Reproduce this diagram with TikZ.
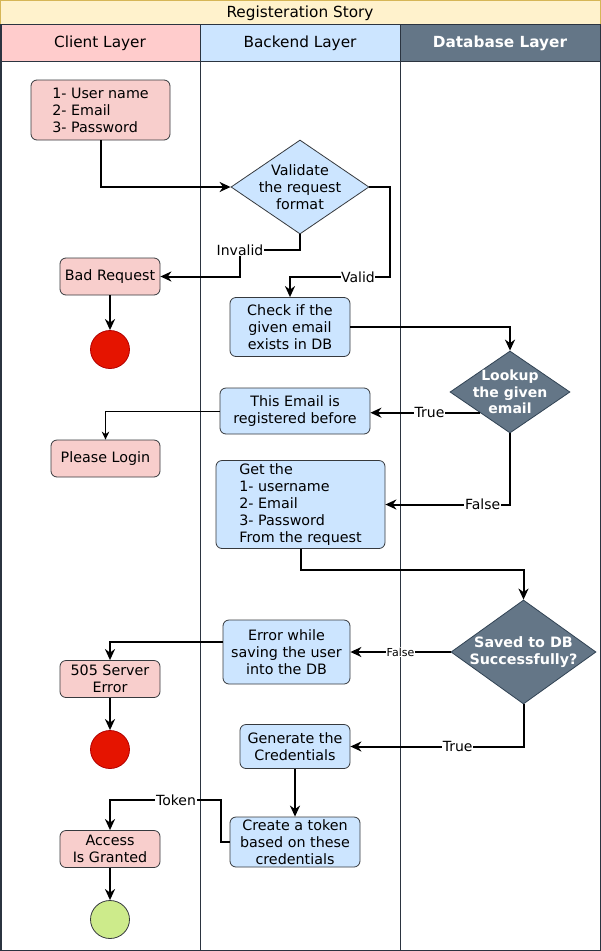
\documentclass[tikz,border=0pt]{standalone}
\usepackage{fontspec}
\setmainfont{DejaVu Sans}
\usetikzlibrary{shapes.geometric,arrows.meta}
\definecolor{pinkf}{HTML}{F8CECC}
\definecolor{pinkh}{HTML}{FFCCCC}
\definecolor{bluef}{HTML}{CCE5FF}
\definecolor{dbf}{HTML}{647687}
\definecolor{dbs}{HTML}{314354}
\definecolor{strokeg}{HTML}{36393D}
\definecolor{titlef}{HTML}{FFF2CC}
\definecolor{titles}{HTML}{D6B656}
\definecolor{lanec}{HTML}{2B3440}
\definecolor{redf}{HTML}{E51400}
\definecolor{reds}{HTML}{B20000}
\definecolor{greenf}{HTML}{CDEB8B}
\begin{document}
\begin{tikzpicture}[x=1pt,y=-1pt,
  box/.style={draw=strokeg, line width=0.8pt, rounded corners=6pt, inner sep=0pt, align=center, font=\fontsize{14.3}{17}\selectfont, text=black},
  cbox/.style={box, fill=pinkf},
  bbox/.style={box, fill=bluef},
  dia/.style={diamond, inner sep=0pt, line width=0.8pt},
  dtext/.style={align=center, inner sep=0pt, font=\fontsize{14.3}{17}\selectfont},
  endc/.style={ellipse, inner sep=0pt, minimum width=39pt, minimum height=38pt, line width=0.8pt},
  edge/.style={line width=2pt, -{Stealth[length=11pt,width=10pt,inset=3.5pt]}},
  thinedge/.style={line width=1pt, -{Stealth[length=8pt,width=7.5pt,inset=2.5pt]}},
  lbl/.style={fill=white, inner sep=0.6pt, font=\fontsize{14}{16}\selectfont},
  slbl/.style={fill=white, inner sep=0.6pt, font=\fontsize{11}{13}\selectfont},
  hdr/.style={font=\fontsize{15.3}{18}\selectfont}
]
\useasboundingbox (0,0) rectangle (601,951);
% lanes
\fill[white] (0,0) rectangle (601,951);
\draw[draw=titles, fill=titlef, line width=1pt] (0.5,0.5) rectangle (600.5,24);
\node[hdr] (title) at (300,13) {Registeration Story};
\fill[pinkh] (0.5,24) rectangle (200,61);
\fill[bluef] (200,24) rectangle (400,61);
\fill[dbf] (400,24) rectangle (600.5,61);
\node[hdr] (h1) at (100,43) {Client Layer};
\node[hdr] (h2) at (300,43) {Backend Layer};
\node[hdr, text=white, font=\fontsize{15.3}{18}\selectfont\bfseries] (h3) at (500,43) {Database Layer};
\draw[lanec, line width=1pt] (0.5,24) -- (600.5,24);
\draw[lanec, line width=1pt] (0.5,61) -- (600.5,61);
\draw[lanec, line width=0.8pt] (200,24) -- (200,951);
\draw[lanec, line width=0.8pt] (400,24) -- (400,951);
\draw[lanec, line width=1.5pt] (0.75,24) -- (0.75,950.25) -- (600.25,950.25) -- (600.25,24);

% nodes
\node[cbox, minimum width=139pt, minimum height=60pt, align=left] (in) at (100.5,110) {1- User name\\2- Email\\3- Password};
\node[dia, fill=bluef, draw=strokeg, minimum width=138pt, minimum height=94pt] (val) at (300,187) {};
\node[dtext] (valt) at (val.center) {Validate\\the request\\format};
\node[cbox, minimum width=100pt, minimum height=37pt] (bad) at (110,276.5) {Bad Request};
\node[endc, fill=redf, draw=reds] (rc1) at (110,349.5) {};
\node[bbox, minimum width=120pt, minimum height=59pt] (check) at (290,327) {Check if the\\given email\\exists in DB};
\node[dia, fill=dbf, draw=dbs, minimum width=120pt, minimum height=82pt] (look) at (510,392) {};
\node[dtext, text=white, font=\fontsize{14}{16.5}\selectfont\bfseries] (lookt) at (look.center) {Lookup\\the given\\email};
\node[bbox, minimum width=150pt, minimum height=46pt] (email) at (295,411) {This Email is\\registered before};
\node[cbox, minimum width=109pt, minimum height=37pt] (login) at (105.5,458.5) {Please Login};
\node[bbox, minimum width=169pt, minimum height=88pt, align=left] (get) at (300.5,504.5) {Get the\\1- username\\2- Email\\3- Password\\From the request};
\node[dia, fill=dbf, draw=dbs, minimum width=145pt, minimum height=104pt] (saved) at (523.5,652) {};
\node[dtext, text=white, font=\fontsize{14.3}{17}\selectfont\bfseries] (savedt) at (saved.center) {Saved to DB\\Successfully?};
\node[bbox, minimum width=127pt, minimum height=64pt] (err) at (286.5,652) {Error while\\saving the user\\into the DB};
\node[cbox, minimum width=100pt, minimum height=37pt] (srv) at (110,679) {505 Server\\Error};
\node[endc, fill=redf, draw=reds] (rc2) at (110,749.5) {};
\node[bbox, minimum width=110pt, minimum height=44pt] (gen) at (295,746.5) {Generate the\\Credentials};
\node[bbox, minimum width=130pt, minimum height=50pt] (create) at (295,842) {Create a token\\based on these\\credentials};
\node[cbox, minimum width=100pt, minimum height=37pt] (acc) at (110,849) {Access\\Is Granted};
\node[endc, fill=greenf, draw=strokeg] (gc) at (110,919.5) {};

% connectors
\draw[edge] (in.south) |- (val.west);
\draw[edge] (val.south) |- (240,250) node[lbl] {Invalid} |- (bad.east);
\draw[edge] (val.east) -| (390,277) -| node[lbl,pos=0.16] {Valid} (check.north);
\draw[edge] (bad.south) -- (rc1.north);
\draw[edge] (check.east) -| (look.north);
\draw[edge] (look.south west) -- node[lbl,pos=0.46] {True} (look.south west -| email.east);
\draw[thinedge] (email.west) -| (login.north);
\draw[edge] (look.south) |- node[lbl,pos=0.61] {False} (get.east);
\draw[edge] (get.south) -- ++(0,21) -| (saved.north);
\draw[edge] (saved.west) -- node[slbl] {False} (err.east);
\draw[edge] ([yshift=10pt]err.west) -| (srv.north);
\draw[edge] (srv.south) -- (rc2.north);
\draw[edge] (saved.south) |- node[lbl,pos=0.69] {True} (gen.east);
\draw[edge] (gen.south) -- (create.north);
\draw[edge] (create.west) -- ++(-9,0) |- (176,800) node[lbl] {Token} -| (acc.north);
\draw[edge] (acc.south) -- (gc.north);
\end{tikzpicture}
\end{document}
